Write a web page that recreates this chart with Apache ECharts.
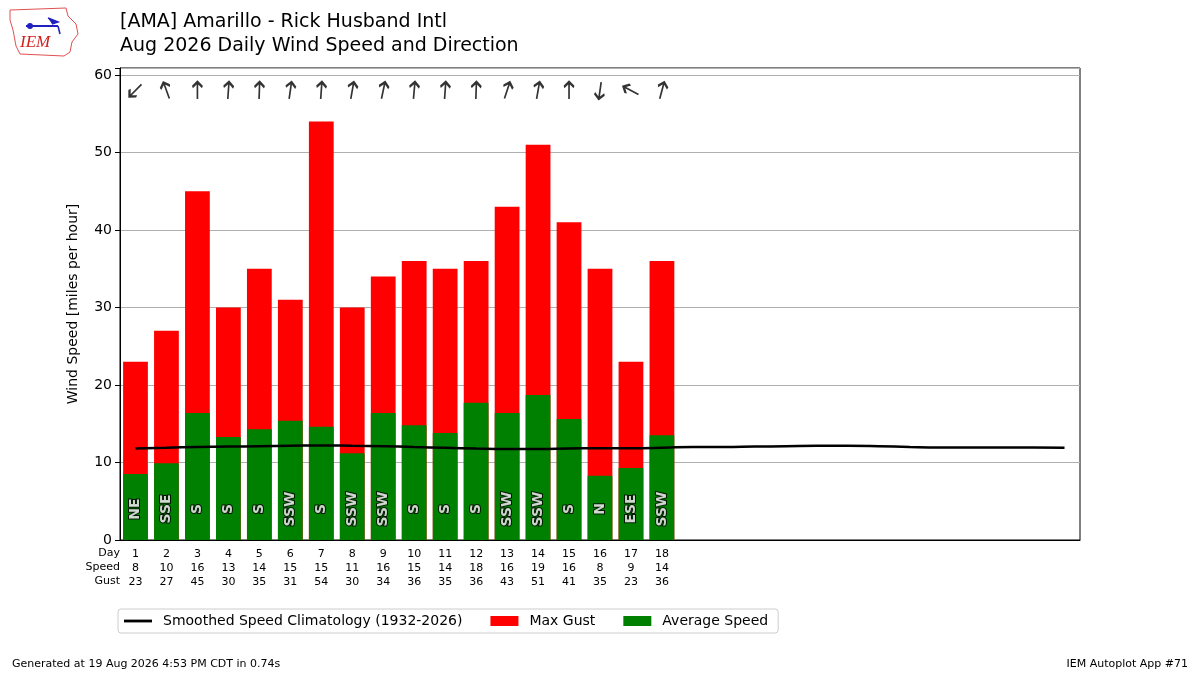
<!DOCTYPE html>
<html>
<head>
<meta charset="utf-8">
<script src="https://cdn.jsdelivr.net/npm/echarts@6/dist/echarts.min.js"></script>
<style>
html,body{margin:0;padding:0;background:#fff;}
#chart{width:1200px;height:675px;}
</style>
</head>
<body>
<div id="chart"></div>
<script>
const days = ['1','2','3','4','5','6','7','8','9','10','11','12','13','14','15','16','17','18','19','20','21','22','23','24','25','26','27','28','29','30','31'];
const avgSpeed = [8.5, 9.9, 16.4, 13.3, 14.3, 15.4, 14.6, 11.2, 16.4, 14.8, 13.8, 17.7, 16.4, 18.7, 15.6, 8.3, 9.3, 13.5];
const speedLabels = [8, 10, 16, 13, 14, 15, 15, 11, 16, 15, 14, 18, 16, 19, 16, 8, 9, 14];
const maxGust = [23, 27, 45, 30, 35, 31, 54, 30, 34, 36, 35, 36, 43, 51, 41, 35, 23, 36];
const dirNames = ['NE','SSE','S','S','S','SSW','S','SSW','SSW','S','S','S','SSW','SSW','S','N','ESE','SSW'];
const arrowBearing = [225, 340, 0, 4, 2, 8, 4, 10, 12, 5, 4, 2, 18, 10, 0, 188, 298, 15];
const climatology = [11.8, 11.9, 12.0, 12.05, 12.1, 12.15, 12.2, 12.15, 12.1, 12.0, 11.9, 11.8, 11.75, 11.75, 11.8, 11.85, 11.85, 11.9, 12.0, 12.0, 12.05, 12.1, 12.15, 12.15, 12.1, 12.0, 11.95, 11.95, 11.95, 11.95, 11.9];
const rowNames = ['Day', 'Speed', 'Gust'];

const FONT = 'DejaVu Sans';
const chart = echarts.init(document.getElementById('chart'));

const arrowData = arrowBearing.map((b, i) => ({ value: [i, 58], symbolRotate: -b }));
const dirData = dirNames.map((d, i) => ({ value: [i, 4.0], label: { formatter: d } }));

const rowGraphics = rowNames.map((t, i) => ({
  type: 'text', x: 120, y: 548 + i * 14,
  style: { text: t, font: '11px "DejaVu Sans"', fill: '#000', align: 'right', verticalAlign: 'top' }
}));

chart.setOption({
  animation: false,
  backgroundColor: '#fff',
  textStyle: { fontFamily: FONT },
  grid: { left: 120, right: 120, top: 68, bottom: 135, show: true, borderColor: '#000', borderWidth: 1, backgroundColor: 'transparent' },
  legend: {
    left: 118, top: 609,
    padding: [5, 10, 5, 6],
    itemGap: 28, itemWidth: 28, itemHeight: 10,
    borderColor: '#cccccc', borderWidth: 1, borderRadius: 3,
    textStyle: { fontFamily: FONT, fontSize: 14, color: '#000', padding: [0, 0, 0, 6] },
    data: [
      { name: 'Smoothed Speed Climatology (1932-2026)', icon: 'path://M0,0 L30,0 L30,3 L0,3 Z', symbolKeepAspect: true },
      { name: 'Max Gust', icon: 'rect' },
      { name: 'Average Speed', icon: 'rect' }
    ]
  },
  xAxis: {
    type: 'category',
    data: days,
    axisLine: { lineStyle: { color: '#000', width: 1 } },
    axisTick: { alignWithLabel: true, length: 5, lineStyle: { color: '#000' }, interval: (idx) => idx < maxGust.length },
    axisLabel: {
      interval: 0,
      margin: 7,
      fontFamily: FONT, fontSize: 11, lineHeight: 14, color: '#000',
      formatter: (v, idx) => idx < maxGust.length ? (v + '\n' + speedLabels[idx] + '\n' + maxGust[idx]) : ''
    },
    splitLine: { show: false }
  },
  yAxis: {
    type: 'value',
    min: 0, max: 60.9, interval: 10,
    name: 'Wind Speed [miles per hour]',
    nameLocation: 'middle', nameGap: 40, nameRotate: 90,
    nameTextStyle: { fontFamily: FONT, fontSize: 14, color: '#000' },
    axisLine: { show: true, lineStyle: { color: '#000' } },
    axisTick: { show: true, length: 5, lineStyle: { color: '#000' } },
    axisLabel: { fontFamily: FONT, fontSize: 14, color: '#000', margin: 8, formatter: v => (v % 10 === 0 ? String(v) : '') },
    splitLine: { show: true, lineStyle: { color: '#b0b0b0', width: 1 } }
  },
  series: [
    {
      name: 'Max Gust', type: 'bar', data: maxGust, barWidth: '80%',
      itemStyle: { color: '#ff0000' }, z: 2
    },
    {
      name: 'Average Speed', type: 'bar', data: avgSpeed, barWidth: '80%', barGap: '-100%',
      itemStyle: { color: '#008000' }, z: 2
    },
    {
      name: 'Smoothed Speed Climatology (1932-2026)', type: 'line', data: climatology,
      symbol: 'none', smooth: true, lineStyle: { color: '#000', width: 2.5 }, itemStyle: { color: '#000' }, z: 4
    },
    {
      name: 'arrows', type: 'scatter', data: arrowData,
      symbol: 'path://M5,20 L5,0 M0,6 L5,0 L10,6',
      symbolSize: [10, 17],
      itemStyle: { color: 'none', borderColor: '#000', borderWidth: 2.2 },
      z: 5, silent: true
    },
    {
      name: 'dirs', type: 'scatter', data: dirData,
      symbolSize: 1, itemStyle: { color: 'transparent' },
      label: {
        show: true, position: 'inside', rotate: 90,
        fontFamily: FONT, fontSize: 14, fontWeight: 'bold', color: '#fff',
        textBorderColor: '#000', textBorderWidth: 2
      },
      z: 5, silent: true
    }
  ],
  graphic: [
    { type: 'text', left: 120, top: 13, style: { text: '[AMA] Amarillo - Rick Husband Intl', font: '19px "DejaVu Sans"', fill: '#000' } },
    { type: 'text', left: 120, top: 37, style: { text: 'Aug 2026 Daily Wind Speed and Direction', font: '19px "DejaVu Sans"', fill: '#000' } },
    { type: 'polyline', shape: { points: [[10,10],[66,8],[68,16],[76,24],[78,34],[72,42],[70,52],[64,56],[20,54],[16,46],[13,30],[10,20],[10,10]] }, style: { stroke: '#e05050', fill: 'none', lineWidth: 1 } },
    { type: 'polyline', shape: { points: [[26,26],[58,26]] }, style: { stroke: '#2020c0', lineWidth: 2 } },
    { type: 'circle', shape: { cx: 30, cy: 26, r: 3 }, style: { fill: '#2020c0' } },
    { type: 'polyline', shape: { points: [[48,18],[58,22],[52,24]] }, style: { stroke: '#2020c0', fill: '#2020c0', lineWidth: 1.5 } },
    { type: 'polyline', shape: { points: [[58,26],[60,34]] }, style: { stroke: '#2020c0', lineWidth: 1.5 } },
    { type: 'text', left: 20, top: 34, style: { text: 'IEM', font: 'italic 17px "Liberation Serif"', fill: '#d02020' } },
    { type: 'text', left: 12, top: 659, style: { text: 'Generated at 19 Aug 2026 4:53 PM CDT in 0.74s', font: '11px "DejaVu Sans"', fill: '#000' } },
    { type: 'text', right: 12, top: 659, style: { text: 'IEM Autoplot App #71', font: '11px "DejaVu Sans"', fill: '#000' } }
  ].concat(rowGraphics)
});
</script>
</body>
</html>
